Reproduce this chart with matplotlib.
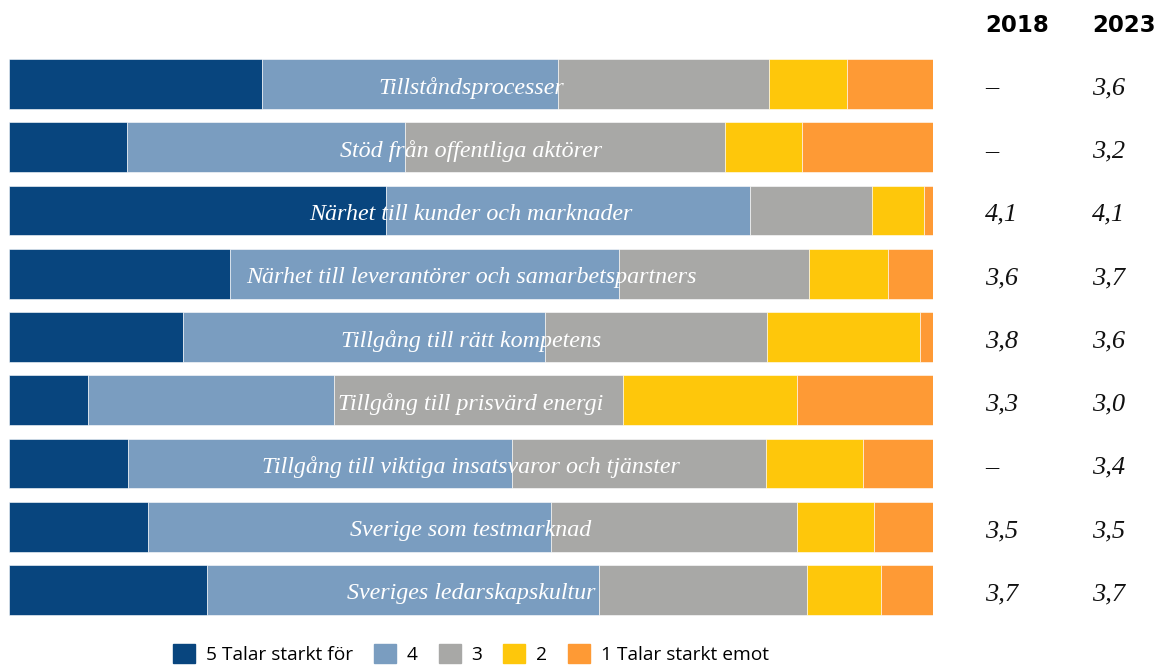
import matplotlib.pyplot as plt
import matplotlib.patches as mpatches
import matplotlib.transforms as mtransforms
import numpy as np

categories = [
    "Tillståndsprocesser",
    "Stöd från offentliga aktörer",
    "Närhet till kunder och marknader",
    "Närhet till leverantörer och samarbetspartners",
    "Tillgång till rätt kompetens",
    "Tillgång till prisvärd energi",
    "Tillgång till viktiga insatsvaror och tjänster",
    "Sverige som testmarknad",
    "Sveriges ledarskapskultur",
]

# andel svar (%) per betyg
s5 = [27.4, 12.8, 40.8, 23.9, 18.8, 8.5, 12.9, 15.0, 21.4]
s4 = [32.0, 30.1, 39.4, 42.1, 39.2, 26.7, 41.5, 43.7, 42.5]
s3 = [22.8, 34.6, 13.2, 20.6, 24.0, 31.2, 27.5, 26.6, 22.5]
s2 = [8.5, 8.3, 5.6, 8.5, 16.6, 18.9, 10.5, 8.3, 8.0]
s1 = [9.3, 14.2, 1.0, 4.9, 1.4, 14.7, 7.6, 6.4, 5.6]

v2018 = ["–", "–", "4,1", "3,6", "3,8", "3,3", "–", "3,5", "3,7"]
v2023 = ["3,6", "3,2", "4,1", "3,7", "3,6", "3,0", "3,4", "3,5", "3,7"]

series = [s5, s4, s3, s2, s1]
legend_labels = ["5 Talar starkt för", "4", "3", "2", "1 Talar starkt emot"]
colors = ["#08457e", "#7a9dc0", "#a8a8a6", "#fec70b", "#fe9a35"]

W, H = 1155, 668
fig = plt.figure(figsize=(W / 100, H / 100), dpi=100)
ax = fig.add_axes([9 / W, 46.4 / H, 924 / W, 569.2 / H])

y = np.arange(len(categories))
left = np.zeros(len(categories))
for vals, col in zip(series, colors):
    vals = np.array(vals)
    ax.barh(y, vals, left=left, height=0.79, color=col, edgecolor="white", linewidth=0.4)
    left += vals

ax.set_xlim(0, left.max())
ax.set_ylim(len(categories) - 0.5, -0.5)
ax.axis("off")

serif = ["Liberation Serif", "DejaVu Serif"]
for i, cat in enumerate(categories):
    ax.text(left.max() / 2, i + 0.06, cat, ha="center", va="center", color="white",
            fontsize=17.3, style="italic", family=serif)

trans = mtransforms.blended_transform_factory(fig.transFigure, ax.transData)
for i in range(len(categories)):
    ax.text(985 / W, i + 0.07, v2018[i], ha="left", va="center", fontsize=19,
            style="italic", family=serif, transform=trans, color="#111111")
    ax.text(1092 / W, i + 0.07, v2023[i], ha="left", va="center", fontsize=19,
            style="italic", family=serif, transform=trans, color="#111111")

fig.text(985 / W, 1 - 26 / H, "2018", ha="left", va="center", fontsize=16.5,
         fontweight="bold", family="DejaVu Sans")
fig.text(1092 / W, 1 - 26 / H, "2023", ha="left", va="center", fontsize=16.5,
         fontweight="bold", family="DejaVu Sans")

handles = [mpatches.Patch(color=c) for c in colors]
fig.legend(handles, legend_labels, loc="lower center", bbox_to_anchor=(471 / W, -0.02),
           ncol=5, frameon=False, prop={"family": "Open Sans", "size": 13.8},
           handlelength=1.15, handleheight=1.15, handletextpad=0.55, columnspacing=1.1)

fig.savefig("out.png", dpi=100)
